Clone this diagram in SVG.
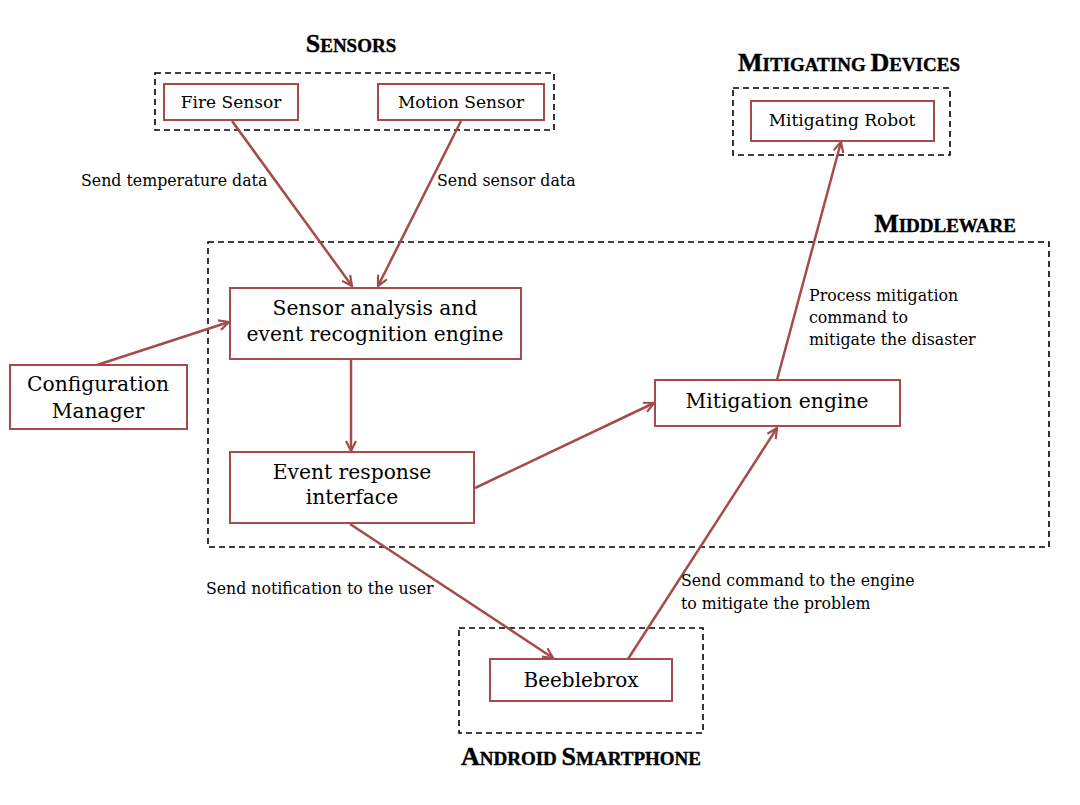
<svg xmlns="http://www.w3.org/2000/svg" width="1080" height="805" viewBox="0 0 1080 805">
<defs>
<style>
.node{fill:#fff;stroke:#a54b4b;stroke-width:2}
.grp{fill:none;stroke:#000;stroke-width:1.6;stroke-dasharray:6,4}
.nt{font-family:"DejaVu Serif","Liberation Serif",serif;fill:#000;text-anchor:middle}
.lb{font-family:"DejaVu Serif","Liberation Serif",serif;font-size:15.8px;fill:#000}
.lbc{font-family:"DejaVu Serif Condensed","DejaVu Serif",serif;font-stretch:condensed;font-size:17.5px;fill:#000}
.ttl{font-family:"Liberation Serif",serif;font-weight:bold;fill:#000;text-anchor:middle;stroke:#000;stroke-width:0.4}
.edge{fill:none;stroke:#a54b4b;stroke-width:2.5;marker-end:url(#ah)}
</style>
<marker id="ah" viewBox="0 0 12 12" refX="11" refY="6" markerWidth="12" markerHeight="12" markerUnits="userSpaceOnUse" orient="auto">
<path d="M1,1 L11,6 L1,11" fill="none" stroke="#a54b4b" stroke-width="2.2"/>
</marker>
</defs>
<rect width="1080" height="805" fill="#fff"/>

<g id="groups">
<rect class="grp" x="155" y="73" width="399" height="57"/>
<rect class="grp" x="733" y="88" width="217" height="67"/>
<rect class="grp" x="208" y="242" width="841" height="305"/>
<rect class="grp" x="459" y="628" width="244" height="105"/>
</g>

<g id="titles">
<text class="ttl" x="351" y="52"><tspan font-size="26">S</tspan><tspan font-size="19">ENSORS</tspan></text>
<text class="ttl" x="849" y="71"><tspan font-size="26">M</tspan><tspan font-size="19">ITIGATING </tspan><tspan font-size="26">D</tspan><tspan font-size="19">EVICES</tspan></text>
<text class="ttl" x="945" y="232"><tspan font-size="26">M</tspan><tspan font-size="19">IDDLEWARE</tspan></text>
<text class="ttl" x="581" y="765"><tspan font-size="26">A</tspan><tspan font-size="19">NDROID </tspan><tspan font-size="26">S</tspan><tspan font-size="19">MARTPHONE</tspan></text>
</g>

<g id="connectors">
<line class="edge" x1="232" y1="121" x2="352" y2="286"/>
<line class="edge" x1="461" y1="121" x2="378" y2="286"/>
<line class="edge" x1="97" y1="365" x2="229" y2="322"/>
<line class="edge" x1="351" y1="360" x2="351" y2="451"/>
<line class="edge" x1="475" y1="488" x2="654" y2="403"/>
<line class="edge" x1="777" y1="380" x2="841" y2="142"/>
<line class="edge" x1="350" y1="524" x2="553" y2="658"/>
<line class="edge" x1="628" y1="659" x2="777" y2="428"/>
</g>

<g id="edge-labels">
<text class="lb" x="81" y="186">Send temperature data</text>
<text class="lb" x="437" y="186">Send sensor data</text>
<text class="lb" x="809" y="301">Process mitigation</text>
<text class="lb" x="809" y="323">command to</text>
<text class="lb" x="809" y="345">mitigate the disaster</text>
<text class="lbc" x="206" y="594">Send notification to the user</text>
<text class="lbc" x="681" y="586">Send command to the engine</text>
<text class="lbc" x="681" y="609">to mitigate the problem</text>
</g>

<g id="fire-sensor">
<rect class="node" x="164" y="84" width="134" height="36"/>
<text class="nt" x="231" y="108" font-size="17">Fire Sensor</text>
</g>
<g id="motion-sensor">
<rect class="node" x="378" y="84" width="166" height="36"/>
<text class="nt" x="461" y="108" font-size="17">Motion Sensor</text>
</g>
<g id="mitigating-robot">
<rect class="node" x="751" y="101" width="183" height="40"/>
<text class="nt" x="842" y="126" font-size="17">Mitigating Robot</text>
</g>
<g id="sensor-analysis">
<rect class="node" x="230" y="288" width="291" height="71"/>
<text class="nt" x="375" y="315" font-size="20.3">Sensor analysis and</text>
<text class="nt" x="375" y="341" font-size="20.3">event recognition engine</text>
</g>
<g id="configuration-manager">
<rect class="node" x="10" y="365" width="177" height="64"/>
<text class="nt" x="98" y="391" font-size="20.3">Configuration</text>
<text class="nt" x="98" y="418" font-size="20.3">Manager</text>
</g>
<g id="event-response">
<rect class="node" x="230" y="452" width="244" height="71"/>
<text class="nt" x="352" y="479" font-size="20.3">Event response</text>
<text class="nt" x="352" y="504" font-size="20.3">interface</text>
</g>
<g id="mitigation-engine">
<rect class="node" x="655" y="380" width="245" height="46"/>
<text class="nt" x="777" y="408" font-size="20.3">Mitigation engine</text>
</g>
<g id="beeblebrox">
<rect class="node" x="490" y="659" width="182" height="42"/>
<text class="nt" x="581" y="687" font-size="20">Beeblebrox</text>
</g>
</svg>
